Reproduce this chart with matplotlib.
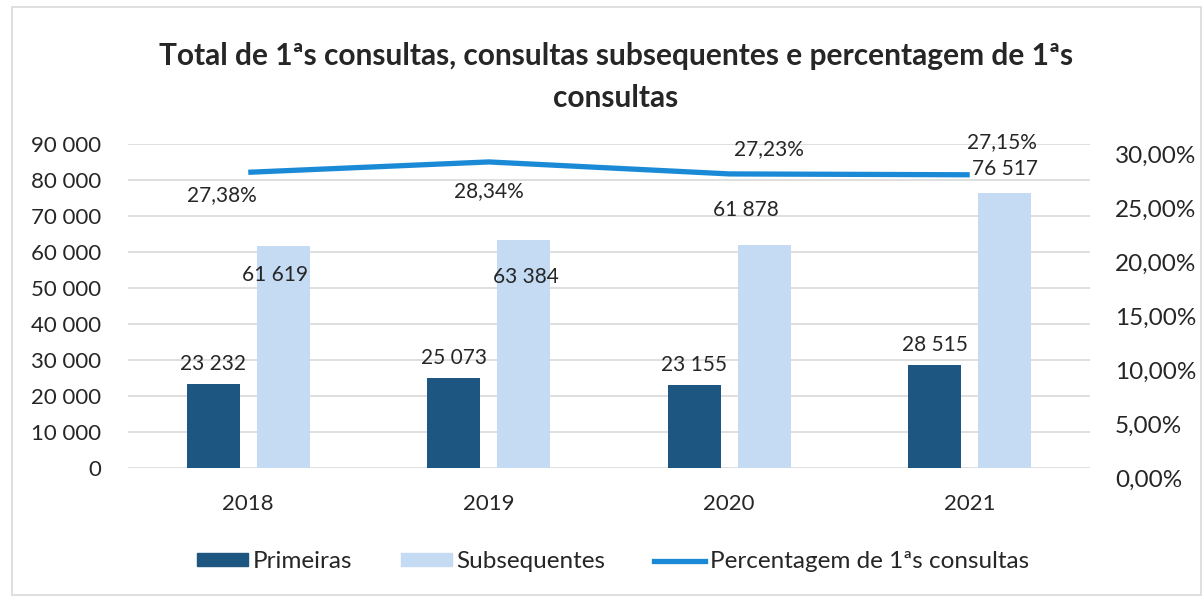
import matplotlib
matplotlib.use("Agg")
import matplotlib.pyplot as plt
from matplotlib.patches import Rectangle
from matplotlib.lines import Line2D
from matplotlib.ticker import FuncFormatter
from matplotlib.transforms import ScaledTranslation

plt.rcParams['font.family'] = ['Lato', 'DejaVu Sans']

years = ["2018", "2019", "2020", "2021"]
primeiras = [23232, 25073, 23155, 28515]
subsequentes = [61619, 63384, 61878, 76517]
percentagem = [27.38, 28.34, 27.23, 27.15]

title = "Total de 1ªs consultas, consultas subsequentes e percentagem de 1ªs\nconsultas"

dark = "#1d5680"
light = "#c4dbf3"
line_c = "#1b8ad6"
txt = "#262626"
fs_data = 15
fs_left = 16
fs_right = 17.5
fs_year = 16
fs_leg = 17.5

fig = plt.figure(figsize=(12.03, 6.0), dpi=100)
ax = fig.add_axes([128/1203, 1-468/600, (1090-128)/1203, (468-144)/600])
ax2 = ax.twinx()

x = list(range(len(years)))
w = 0.22
off = 0.145
ax.bar([i - off for i in x], primeiras, width=w, color=dark, zorder=3)
ax.bar([i + off for i in x], subsequentes, width=w, color=light, zorder=3)

ax.set_xlim(-0.5, 3.5)
ax.set_ylim(0, 90000)
ax.set_yticks(range(0, 90001, 10000))
ax.yaxis.set_major_formatter(FuncFormatter(lambda v, p: f"{int(v):,}".replace(",", " ")))
ax.set_xticks(x)
ax.set_xticklabels(years)
ax.grid(axis='y', color='#d9d9d9', linewidth=1.2, zorder=0)
ax.tick_params(axis='y', length=0, pad=19, labelsize=fs_left, labelcolor=txt)
ax.tick_params(axis='x', length=0, pad=19, labelsize=fs_year, labelcolor=txt)
for s in ax.spines.values():
    s.set_visible(False)

ax2.plot(x, [p / 100 for p in percentagem], color=line_c, linewidth=3.8, zorder=4,
         solid_capstyle='butt')
ax2.set_ylim(0, 0.30)
ax2.set_yticks([0, 0.05, 0.10, 0.15, 0.20, 0.25, 0.30])
ax2.yaxis.set_major_formatter(FuncFormatter(lambda v, p: f"{v*100:.2f}%".replace(".", ",")))
ax2.tick_params(axis='y', length=0, pad=18, labelsize=fs_right, labelcolor=txt)
for s in ax2.spines.values():
    s.set_visible(False)
ax2.set_xlim(-0.5, 3.5)
shift = ScaledTranslation(0, -10/100, fig.dpi_scale_trans)
for lab in ax2.get_yticklabels():
    lab.set_transform(lab.get_transform() + shift)

px = 72 / 100  # pixels -> points

for i, v in enumerate(primeiras):
    ax.annotate(f"{v:,}".replace(",", " "), (i - off, v), xytext=(0, 10 * px),
                textcoords='offset points', ha='center', va='bottom', fontsize=fs_data, color=txt)

sub_off = [(-8, -29), (2, -37), (-18, 35), (0, 24)]
for i, v in enumerate(subsequentes):
    dx, dy = sub_off[i]
    ax.annotate(f"{v:,}".replace(",", " "), (i + off, v), xytext=(dx * px, dy * px),
                textcoords='offset points', ha='center', va='center', fontsize=fs_data, color=txt)

pct_off = [(-26, -23), (0, -29), (40, 25), (32, 33)]
for i, v in enumerate(percentagem):
    dx, dy = pct_off[i]
    ax2.annotate(f"{v:.2f}%".replace(".", ","), (i, v / 100), xytext=(dx * px, dy * px),
                 textcoords='offset points', ha='center', va='center', fontsize=fs_data, color=txt,
                 zorder=5)

fig.text(0.512, 1 - 77/600, title, ha='center', va='center', fontsize=21.5,
         fontweight='bold', color=txt, linespacing=1.6)

handles = [Rectangle((0, 0), 1, 1, color=dark), Rectangle((0, 0), 1, 1, color=light),
           Line2D([], [], color=line_c, linewidth=3.8)]
fig.legend(handles, ["Primeiras", "Subsequentes", "Percentagem de 1ªs consultas"],
           loc='center', bbox_to_anchor=(613/1203, 1 - 562/600), ncol=3, frameon=False,
           fontsize=fs_leg, handlelength=2.1, handleheight=0.45, handletextpad=0.2,
           columnspacing=2.0, labelcolor=txt)

fig.patches.append(Rectangle((12/1203, 5/600), 1189/1203, 588/600, transform=fig.transFigure,
                             fill=False, edgecolor='#d9d9d9', linewidth=1.2))

fig.savefig("out.png", dpi=100)
